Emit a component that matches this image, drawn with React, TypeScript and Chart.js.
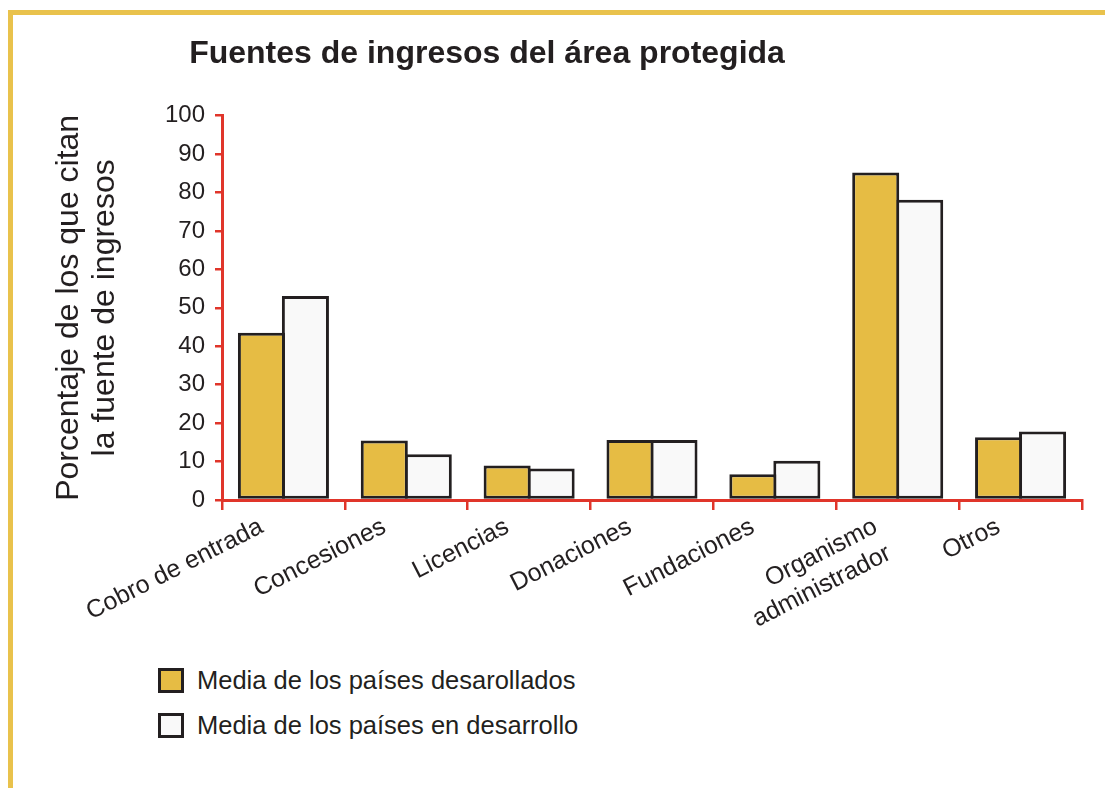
import React, { useEffect, useRef } from "react";
import { Chart, registerables } from "chart.js";

Chart.register(...registerables);

const TITLE = "Fuentes de ingresos del área protegida";
const Y_TITLE = ["Porcentaje de los que citan", "la fuente de ingresos"];
const categories: (string | string[])[] = [
  "Cobro de entrada",
  "Concesiones",
  "Licencias",
  "Donaciones",
  "Fundaciones",
  ["Organismo", "administrador"],
  "Otros",
];
const seriesNames = ["Media de los países desarollados", "Media de los países en desarrollo"];
const developed = [43.5, 15.5, 9.0, 15.6, 6.7, 85.2, 16.3];
const developing = [53.1, 11.9, 8.2, 15.6, 10.2, 78.1, 17.8];
const Y_MIN = 0;
const Y_MAX = 100;
const Y_STEP = 10;

const FONT = "'Liberation Sans', Arial, Helvetica, sans-serif";
const TEXT = "#231f20";
const RED = "#e0352a";
const GOLD = "#e6bc44";
const WHITE = "#f9f9f9";
const EDGE = "#231f20";
const FRAME = "#e9c24c";

const TITLE_CENTER_X = 474;

const titleShift = {
  id: "titleShift",
  afterLayout(chart: any) {
    const tb = chart.titleBlock;
    if (!tb) return;
    const w = tb.right - tb.left;
    tb.left = TITLE_CENTER_X - w / 2;
    tb.right = TITLE_CENTER_X + w / 2;
  },
};

function BarChart() {
  const ref = useRef<HTMLCanvasElement | null>(null);
  useEffect(() => {
    if (!ref.current) return;
    const chart = new Chart(ref.current, {
      type: "bar",
      data: {
        labels: categories,
        datasets: [
          {
            label: seriesNames[0],
            data: developed,
            backgroundColor: GOLD,
            borderColor: EDGE,
            borderWidth: 3,
            borderSkipped: false,
          },
          {
            label: seriesNames[1],
            data: developing,
            backgroundColor: WHITE,
            borderColor: EDGE,
            borderWidth: 3,
            borderSkipped: false,
          },
        ],
      },
      options: {
        responsive: false,
        animation: false,
        datasets: {
          bar: { categoryPercentage: 0.716, barPercentage: 1.07 },
        },
        layout: { padding: { left: 0, right: 31, top: 0, bottom: 0 } },
        plugins: {
          legend: { display: false },
          tooltip: { enabled: false },
          title: {
            display: true,
            text: TITLE,
            color: TEXT,
            font: { family: FONT, size: 32, weight: "bold", lineHeight: 1.2 },
            padding: { top: 20, bottom: 42.3 },
          },
        },
        scales: {
          x: {
            ticks: {
              color: TEXT,
              font: { family: FONT, size: 25 },
              minRotation: 27,
              maxRotation: 27,
              autoSkip: false,
              labelOffset: -22,
              padding: 2,
            },
            grid: {
              drawOnChartArea: false,
              color: RED,
              lineWidth: 2.5,
              tickLength: 10,
              offset: true,
            },
            border: { color: RED, width: 3 },
            afterFit: (s: any) => {
              s.height = 155;
            },
          },
          y: {
            min: Y_MIN,
            max: Y_MAX,
            ticks: {
              stepSize: Y_STEP,
              color: TEXT,
              font: { family: FONT, size: 24 },
              padding: 10,
            },
            grid: {
              drawOnChartArea: false,
              color: RED,
              lineWidth: 2.5,
              tickLength: 7,
            },
            border: { color: RED, width: 3 },
            title: {
              display: true,
              text: Y_TITLE,
              color: TEXT,
              font: { family: FONT, size: 32, lineHeight: 1.1 },
              padding: { top: 39, bottom: 0 },
            },
            afterFit: (s: any) => {
              s.width = 209;
            },
          },
        },
      },
      plugins: [titleShift],
    } as any);
    return () => chart.destroy();
  }, []);
  return (
    <canvas
      ref={ref}
      width={1100}
      height={640}
      style={{ position: "absolute", left: 5, top: 7, width: 1100, height: 640 }}
    />
  );
}

function LegendRow({ color, text, top }: { color: string; text: string; top: number }) {
  return (
    <div
      style={{
        position: "absolute",
        left: 150,
        top,
        display: "flex",
        alignItems: "center",
        height: 25,
      }}
    >
      <div
        style={{
          width: 26,
          height: 25,
          boxSizing: "border-box",
          border: `3px solid ${EDGE}`,
          background: color,
          marginRight: 13,
        }}
      />
      <span style={{ fontFamily: FONT, fontSize: 25.5, color: TEXT, lineHeight: "25px", whiteSpace: "nowrap" }}>
        {text}
      </span>
    </div>
  );
}

export default function App() {
  return (
    <div style={{ position: "relative", width: 1105, height: 780 }}>
      <div
        style={{
          position: "absolute",
          left: 0,
          top: 2,
          right: 0,
          bottom: -8,
          borderTop: `5px solid ${FRAME}`,
          borderLeft: `5px solid ${FRAME}`,
          boxSizing: "border-box",
        }}
      />
      <BarChart />
      <LegendRow color={GOLD} text={seriesNames[0]} top={660} />
      <LegendRow color={WHITE} text={seriesNames[1]} top={705} />
    </div>
  );
}
